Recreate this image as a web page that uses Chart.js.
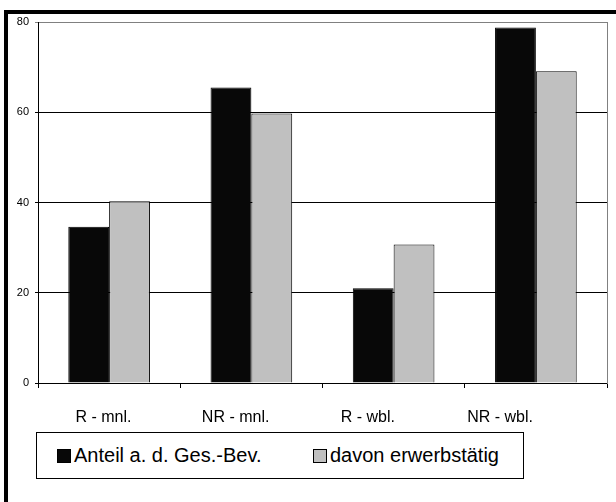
<!DOCTYPE html>
<html>
<head>
<meta charset="utf-8">
<script src="https://cdn.jsdelivr.net/npm/chart.js@4"></script>
<style>
  html, body { margin: 0; padding: 0; background: #fff; }
  #wrap { position: relative; width: 616px; height: 502px; overflow: hidden; background: #fff; }
  #frame { position: absolute; left: 4px; top: 10px; width: 700px; height: 600px; border-top: 4px solid #000; border-left: 4px solid #000; box-sizing: border-box; pointer-events: none; }
  canvas { position: absolute; left: 0; top: 0; }
  #legend { position: absolute; left: 36px; top: 432px; width: 488px; height: 47px; box-sizing: border-box; border: 1px solid #000; background: #fff; font-family: "Liberation Sans", Arial, sans-serif; font-size: 20px; color: #000; }
  .item { position: absolute; top: 0; height: 45px; display: flex; align-items: center; white-space: nowrap; }
  .sw { display: inline-block; width: 12px; height: 12px; border: 1px solid #000; margin-right: 3px; }
</style>
</head>
<body>
<div id="wrap">
  <div id="frame"></div>
  <canvas id="c" width="616" height="502"></canvas>
  <div id="legend"></div>
</div>
<script>
const categories = ["R - mnl.", "NR - mnl.", "R - wbl.", "NR - wbl."];
const seriesNames = ["Anteil a. d. Ges.-Bev.", "davon erwerbstätig"];
const anteil = [34.6, 65.5, 21.0, 78.8];
const erwerbstaetig = [40.3, 59.7, 30.7, 69.1];
const yTicks = [0, 20, 40, 60, 80];
const colors = ["#080808", "#c0c0c0"];

const ctx = document.getElementById('c').getContext('2d');
new Chart(ctx, {
  type: 'bar',
  data: {
    labels: categories,
    datasets: [
      { label: seriesNames[0], data: anteil, backgroundColor: colors[0], borderColor: '#000', borderWidth: 1, xAxisID: 'x', yAxisID: 'y' },
      { label: seriesNames[1], data: erwerbstaetig, backgroundColor: colors[1], borderColor: '#000', borderWidth: 1, xAxisID: 'x', yAxisID: 'y' }
    ]
  },
  options: {
    responsive: false,
    devicePixelRatio: 1,
    animation: false,
    layout: { padding: { left: 0, top: 22, right: 9, bottom: 74 } },
    datasets: { bar: { categoryPercentage: 0.574, barPercentage: 1.0 } },
    plugins: { legend: { display: false }, tooltip: { enabled: false } },
    scales: {
      x: {
        type: 'category',
        position: 'bottom',
        weight: 0,
        offset: true,
        grid: { offset: true, drawOnChartArea: false, drawTicks: true, tickLength: 5, color: '#000', lineWidth: 1 },
        border: { display: true, color: '#000', width: 1 },
        ticks: { display: false },
        afterFit: (s) => { s.height = 5; }
      },
      xl: {
        type: 'linear',
        position: 'bottom',
        weight: 1,
        bounds: 'data',
        offset: false,
        min: -0.495,
        max: 3.809,
        grid: { display: false, drawTicks: false, offset: false },
        border: { display: false },
        afterBuildTicks: (axis) => { axis.ticks = categories.map((_, i) => ({ value: i })); },
        ticks: {
          autoSkip: false, maxRotation: 0, padding: 20,
          color: '#000',
          font: { family: '"Liberation Sans", Arial, sans-serif', size: 16 },
          callback: (v) => categories[v]
        },
        afterFit: (s) => { s.height = 40; }
      },
      y: {
        position: 'left',
        min: 0, max: 80,
        afterBuildTicks: (axis) => { axis.ticks = yTicks.map(v => ({ value: v })); },
        grid: {
          color: (c) => (c.tick && c.tick.value === 80) ? '#808080' : '#000',
          lineWidth: 1, drawTicks: true, tickLength: 3
        },
        border: { display: true, color: '#000', width: 1 },
        ticks: { padding: 6, color: '#000', font: { family: '"Liberation Sans", Arial, sans-serif', size: 11 } },
        afterFit: (s) => { s.width = 38; }
      },
      y2: {
        position: 'right',
        min: 0, max: 80,
        grid: { display: false, drawTicks: false },
        border: { display: true, color: '#808080', width: 1 },
        ticks: { display: false },
        afterFit: (s) => { s.width = 0; }
      }
    }
  }
});

// HTML legend built from the series names
const legend = document.getElementById('legend');
const legendX = [20, 276];
seriesNames.forEach((name, i) => {
  const it = document.createElement('div');
  it.className = 'item';
  it.style.left = legendX[i] + 'px';
  const sw = document.createElement('span');
  sw.className = 'sw';
  sw.style.background = colors[i];
  it.appendChild(sw);
  const t = document.createElement('span');
  t.textContent = name;
  it.appendChild(t);
  legend.appendChild(it);
});
</script>
</body>
</html>
